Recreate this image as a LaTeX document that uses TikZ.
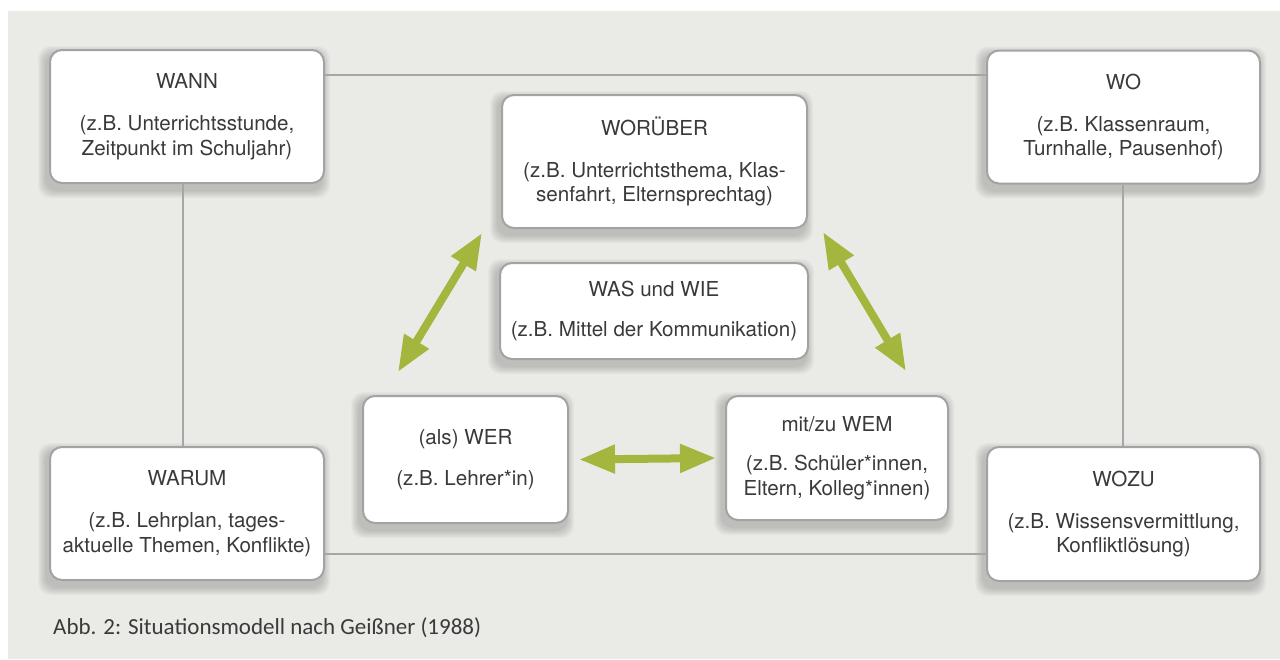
\documentclass[tikz,border=0pt]{standalone}
\usepackage{fontspec}
\setmainfont{TeX Gyre Heros}
\newfontfamily\capfont{Carlito}
\usetikzlibrary{arrows.meta}
\definecolor{bggray}{RGB}{234,235,230}
\definecolor{framegray}{RGB}{163,163,163}
\definecolor{linegray}{RGB}{166,166,166}
\definecolor{txtgray}{RGB}{58,58,58}
\definecolor{arrowgreen}{RGB}{165,182,62}
\pgfdeclarelayer{bg}
\pgfdeclarelayer{shadow}
\pgfsetlayers{bg,shadow,main}
\tikzset{
  box/.style={draw=framegray, line width=2pt, fill=white, rounded corners=12pt,
    align=center, inner sep=0pt, text=txtgray,
    font=\fontsize{20.6}{24.5}\selectfont},
  conn/.style={draw=linegray, line width=2pt},
  dblarrow/.style={draw=arrowgreen, line width=8pt,
    {Triangle[length=36pt,width=27pt]}-{Triangle[length=36pt,width=27pt]}},
}
\begin{document}
\begin{tikzpicture}[x=1pt,y=-1pt]
\useasboundingbox (0,0) rectangle (1280,659);
\begin{pgfonlayer}{bg}
  \fill[white] (0,0) rectangle (1280,659);
  \fill[bggray] (8,11) rectangle (1280,659);
\end{pgfonlayer}

% boxes
\node[box, minimum width=274pt, minimum height=133pt] (WANN) at (187,116.5)
  {WANN\\[17.5pt](z.B. Unterrichtsstunde,\\Zeitpunkt im Schuljahr)};
\node[box, minimum width=273pt, minimum height=133pt] (WO) at (1123.5,117)
  {WO\\[17.5pt](z.B. Klassenraum,\\Turnhalle, Pausenhof)};
\node[box, minimum width=274pt, minimum height=133pt] (WARUM) at (187,513.5)
  {WARUM\\[17.5pt](z.B. Lehrplan, tages-\\aktuelle Themen, Konflikte)};
\node[box, minimum width=273pt, minimum height=134pt] (WOZU) at (1123.5,514)
  {WOZU\\[17.5pt](z.B. Wissensvermittlung,\\Konfliktlösung)};
\node[box, minimum width=305pt, minimum height=133pt] (WORUEBER) at (654.5,161.5)
  {WORÜBER\\[17pt](z.B. Unterrichtsthema, Klas-\\senfahrt, Elternsprechtag)};
\node[box, minimum width=308pt, minimum height=96pt] (WAS) at (654,311)
  {WAS und WIE\\[15pt](z.B. Mittel der Kommunikation)};
\node[box, minimum width=205pt, minimum height=127pt] (WER) at (465.5,459.5)
  {(als) WER\\[16pt](z.B. Lehrer*in)};
\node[box, minimum width=222pt, minimum height=124pt] (WEM) at (837,458)
  {mit/zu WEM\\[15pt](z.B. Schüler*innen,\\Eltern, Kolleg*innen)};

% shadows
\begin{pgfonlayer}{shadow}
  \foreach \n in {WANN,WO,WARUM,WOZU,WORUEBER,WAS,WER,WEM}{
    \foreach \i in {1,...,8}{
      \fill[black, opacity=0.024, rounded corners=12pt]
        ([shift={(-3pt-\i pt,-5pt+\i pt)}]\n.north west)
        rectangle ([shift={(-3pt+\i pt,-6pt-\i pt)}]\n.south east);
    }
  }
\end{pgfonlayer}

% frame connectors
\coordinate (ytop) at (0,75);
\coordinate (ybot) at (0,554);
\coordinate (xl) at (183,0);
\coordinate (xr) at (1123,0);
\begin{pgfonlayer}{shadow}
\draw[conn] (WANN.east |- ytop) -- (WO.west |- ytop);
\draw[conn] (WARUM.east |- ybot) -- (WOZU.west |- ybot);
\draw[conn] (xl |- WANN.south) -- (xl |- WARUM.north);
\draw[conn] (xr |- WO.south) -- (xr |- WOZU.north);
\end{pgfonlayer}

% green arrows
\coordinate (a1) at (482,233);
\coordinate (a2) at (398,372);
\coordinate (a3) at (823,232);
\coordinate (a4) at (906,371);
\draw[dblarrow] (a1) -- (a2);
\draw[dblarrow] (a3) -- (a4);
\draw[dblarrow] ([xshift=10pt]WER.east) -- ([xshift=-9pt]WEM.west);

% caption
\node[anchor=base west, inner sep=0pt, text=txtgray, font=\capfont\fontsize{23}{27}\selectfont]
  (cap) at (53,634) {Abb. 2: Situationsmodell nach Geißner (1988)};
\end{tikzpicture}
\end{document}
